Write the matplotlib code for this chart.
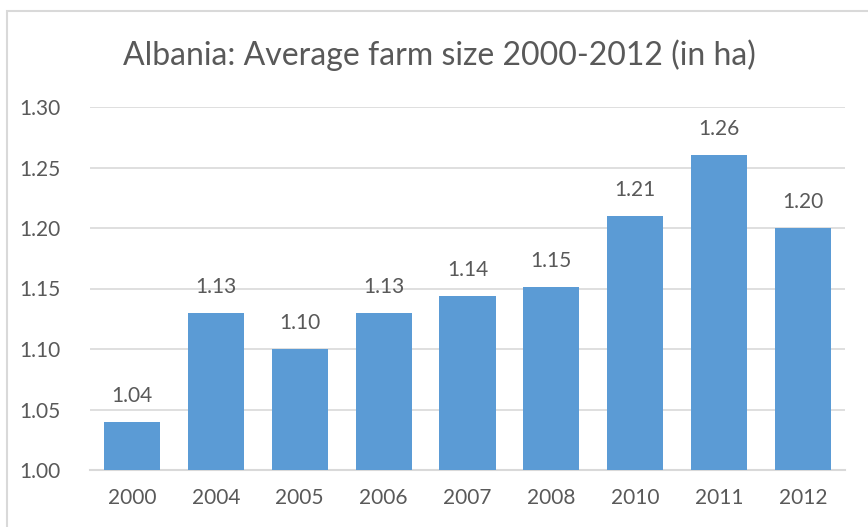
import matplotlib
matplotlib.use("Agg")
import matplotlib.pyplot as plt
from matplotlib.patches import Rectangle

years = ["2000", "2004", "2005", "2006", "2007", "2008", "2010", "2011", "2012"]
farm_size = [1.04, 1.13, 1.10, 1.13, 1.144, 1.151, 1.21, 1.26, 1.20]
y_ticks = [1.00, 1.05, 1.10, 1.15, 1.20, 1.25, 1.30]

BAR_COLOR = "#5B9BD5"
TEXT_COLOR = "#595959"
GRID_COLOR = "#D9D9D9"

plt.rcParams["font.family"] = ["Lato", "DejaVu Sans"]

fig = plt.figure(figsize=(8.68, 5.27), dpi=100)

# chart frame (left and top edges visible)
fig.patches.append(Rectangle((7 / 868, -0.1), 1.2, (527 - 11) / 527 + 0.1,
                             transform=fig.transFigure, fill=False,
                             edgecolor=GRID_COLOR, linewidth=1.5))

ax = fig.add_axes([90 / 868, 1 - 470 / 527, 755 / 868, 363 / 527])

x = range(len(years))
bars = ax.bar(x, farm_size, width=0.67, color=BAR_COLOR, zorder=3)

ax.set_ylim(1.00, 1.30)
ax.set_xlim(-0.5, len(years) - 0.5)
ax.set_yticks(y_ticks)
ax.set_yticklabels([f"{t:.2f}" for t in y_ticks])
ax.set_xticks(list(x))
ax.set_xticklabels(years)

ax.tick_params(axis="both", length=0, labelsize=15, colors=TEXT_COLOR)
ax.tick_params(axis="y", pad=21)
ax.tick_params(axis="x", pad=13)

ax.grid(axis="y", color=GRID_COLOR, linewidth=1.2, zorder=0)
for side in ["left", "right", "top"]:
    ax.spines[side].set_visible(False)
ax.spines["bottom"].set_color(GRID_COLOR)
ax.spines["bottom"].set_linewidth(1.5)

for xi, v in zip(x, farm_size):
    ax.annotate(f"{v:.2f}", (xi, v), xytext=(0, 16), textcoords="offset pixels",
                ha="center", va="bottom", fontsize=15, color=TEXT_COLOR)

fig.text(439 / 868, 1 - 55 / 527, "Albania: Average farm size 2000-2012 (in ha)",
         ha="center", va="center", fontsize=23, color=TEXT_COLOR)

fig.savefig("out.png", dpi=100)
